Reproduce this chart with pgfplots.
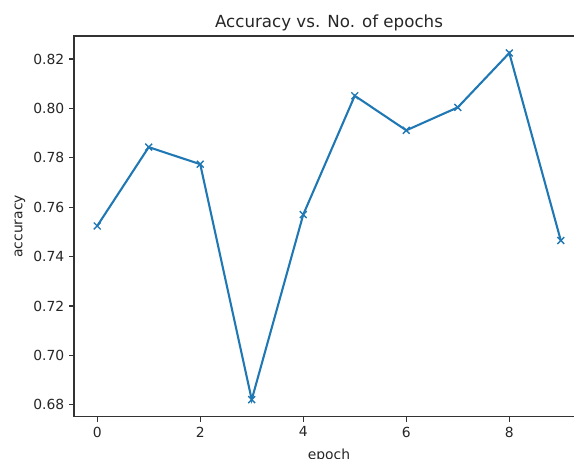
\documentclass[border=0pt]{standalone}
\usepackage{fontspec}
\setmainfont{DejaVu Sans}
\usepackage{pgfplots}
\pgfplotsset{compat=1.18}
\definecolor{mplblue}{RGB}{31,119,180}
\begin{document}
\begin{tikzpicture}
\begin{axis}[
  scale only axis, width=367.2pt, height=274.3pt,
  at={(0,0)}, anchor=south west,
  xmin=-0.45, xmax=9.45, ymin=0.6751, ymax=0.8293,
  xtick={0,2,4,6,8},
  ytick={0.68,0.70,0.72,0.74,0.76,0.78,0.80,0.82},
  xtick pos=left, ytick pos=left,
  tick align=outside, major tick length=3.5pt,
  tick style={black!80, line width=0.8pt},
  axis line style={black!80, line width=0.8pt},
  /pgf/number format/assume math mode=true,
  yticklabel style={/pgf/number format/.cd, fixed, fixed zerofill, precision=2},
  tick label style={font=\fontsize{10}{12}\selectfont, color=black!85},
  scaled y ticks=false,
  title={Accuracy vs. No. of epochs},
  title style={font=\fontsize{12}{14}\selectfont, anchor=base, at={(axis description cs:0.5,1)}, yshift=0pt, color=black!85},
  xlabel={epoch}, ylabel={accuracy},
  xlabel style={font=\fontsize{10}{12}\selectfont, anchor=north, at={(axis description cs:0.5,-0.0707)}, color=black!85},
  ylabel style={font=\fontsize{10}{12}\selectfont, anchor=south, at={(axis description cs:-0.086,0.5)}, color=black!85},
]
\addplot[color=mplblue, line width=1.5pt, mark=x, mark size=3.5pt, mark options={line width=1pt}] coordinates {
(0,0.7524) (1,0.7843) (2,0.7774) (3,0.6821) (4,0.7570) (5,0.8051) (6,0.7911) (7,0.8004) (8,0.8224) (9,0.7465)
};
\end{axis}
\pgfresetboundingbox
\path (-53.3pt,-30.2pt) rectangle (360pt,300.2pt);
\end{tikzpicture}
\end{document}
